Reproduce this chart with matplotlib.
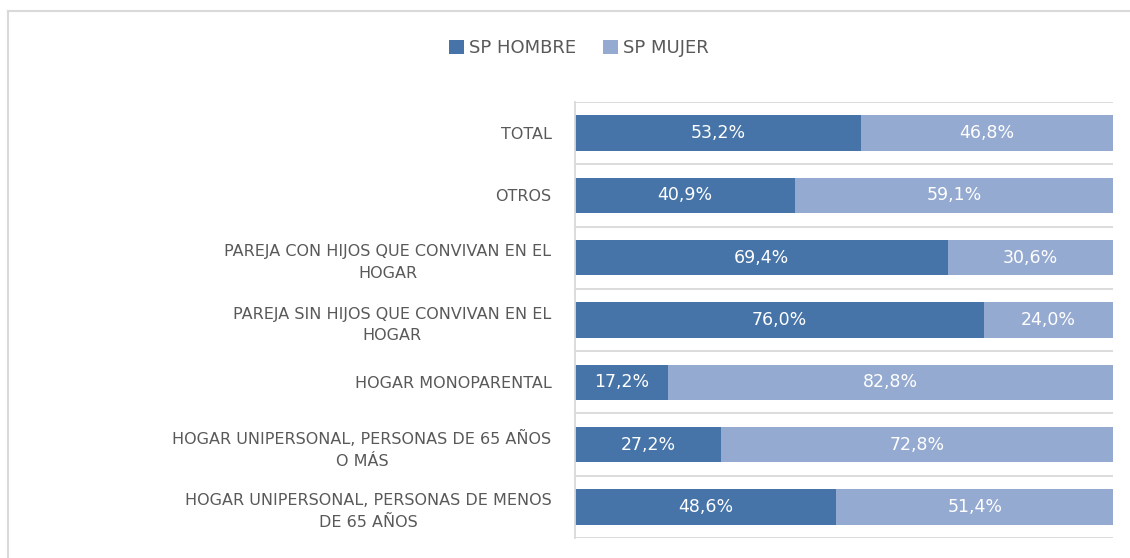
import matplotlib
matplotlib.use("Agg")
import matplotlib.pyplot as plt
from matplotlib.lines import Line2D
import numpy as np

plt.rcParams['font.family'] = ['DejaVu Sans']

categorias = [
    "TOTAL",
    "OTROS",
    "PAREJA CON HIJOS QUE CONVIVAN EN EL\nHOGAR",
    "PAREJA SIN HIJOS QUE CONVIVAN EN EL\nHOGAR",
    "HOGAR MONOPARENTAL",
    "HOGAR UNIPERSONAL, PERSONAS DE 65 AÑOS\nO MÁS",
    "HOGAR UNIPERSONAL, PERSONAS DE MENOS\nDE 65 AÑOS",
]
sp_hombre = [53.2, 40.9, 69.4, 76.0, 17.2, 27.2, 48.6]
sp_mujer = [46.8, 59.1, 30.6, 24.0, 82.8, 72.8, 51.4]
series = ["SP HOMBRE", "SP MUJER"]

c_hombre = "#4674A8"
c_mujer = "#95AAD1"
gris_txt = "#595959"
gris_lin = "#D9D9D9"

fig = plt.figure(figsize=(11.3, 5.58), dpi=100)
ax = fig.add_axes([575/1130, 1-538/558, (1113-575)/1130, (538-102)/558])

y = np.arange(len(categorias))
h = np.array(sp_hombre) / 100
m = np.array(sp_mujer) / 100
b1 = ax.barh(y, h, height=0.57, color=c_hombre, label=series[0])
b2 = ax.barh(y, m, left=h, height=0.57, color=c_mujer, label=series[1])

def fmt(v):
    return f"{v:.1f}%".replace(".", ",")

for i in range(len(categorias)):
    ax.text(h[i]/2, y[i], fmt(sp_hombre[i]), ha="center", va="center",
            color="white", fontsize=12.5)
    ax.text(h[i] + m[i]/2, y[i], fmt(sp_mujer[i]), ha="center", va="center",
            color="white", fontsize=12.5)

ax.set_xlim(0, 1)
ax.set_ylim(len(categorias) - 0.5, -0.5)
ax.set_yticks(y)
ax.set_yticklabels(categorias, fontsize=11.5, color=gris_txt,
                   multialignment="center", linespacing=1.55)
ax.tick_params(axis="y", length=0, pad=17)
ax.set_xticks([])
ax.set_yticks(np.arange(-0.5, len(categorias), 1), minor=True)
ax.tick_params(axis="y", which="minor", length=0)
ax.grid(axis="y", which="minor", color=gris_lin, lw=1.3)
ax.set_axisbelow(True)
for s in ["top", "right", "bottom"]:
    ax.spines[s].set_visible(False)
ax.spines["left"].set_color(gris_lin)
ax.spines["left"].set_linewidth(1.3)

fig.legend(handles=[b1, b2], labels=series, loc="center",
           bbox_to_anchor=(579/1130, 1-48/558), ncol=2, frameon=False,
           fontsize=13, labelcolor=gris_txt, handlelength=0.8, handleheight=0.8,
           handletextpad=0.3, columnspacing=1.5)

# borde del grafico
fig.add_artist(Line2D([8/1130, 8/1130], [0, 1-11/558], transform=fig.transFigure,
                      color=gris_lin, lw=1.5))
fig.add_artist(Line2D([8/1130, 1], [1-11/558, 1-11/558], transform=fig.transFigure,
                      color=gris_lin, lw=1.5))

fig.savefig("out.png", dpi=100)
